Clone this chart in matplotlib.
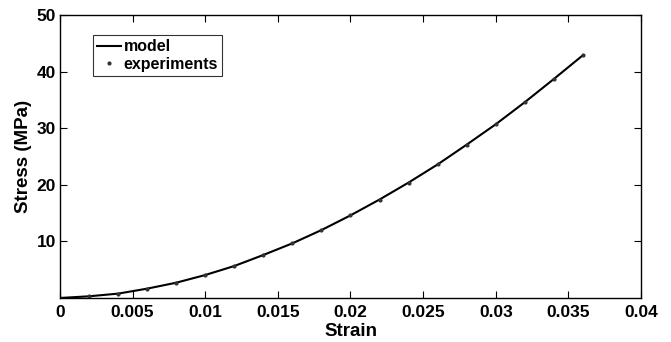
import matplotlib
matplotlib.use('Agg')
import matplotlib.pyplot as plt
import numpy as np

plt.rcParams['font.family'] = ['Liberation Sans', 'DejaVu Sans']
plt.rcParams['font.weight'] = 'bold'

# data
strain = [0.0, 0.002, 0.004, 0.006, 0.008, 0.010, 0.012, 0.014, 0.016, 0.018,
          0.020, 0.022, 0.024, 0.026, 0.028, 0.030, 0.032, 0.034, 0.036]
stress_exp = [0.0, 0.3, 0.77, 1.65, 2.7, 4.06, 5.65, 7.6, 9.66, 12.0,
              14.6, 17.4, 20.4, 23.6, 27.1, 30.7, 34.6, 38.7, 42.9]
stress_model = [0.0, 0.3, 0.77, 1.65, 2.7, 4.06, 5.65, 7.6, 9.66, 12.0,
                14.6, 17.4, 20.4, 23.6, 27.1, 30.7, 34.6, 38.7, 42.9]

xticks = [0, 0.005, 0.01, 0.015, 0.02, 0.025, 0.03, 0.035, 0.04]
xticklabels = ['0', '0.005', '0.01', '0.015', '0.02', '0.025', '0.03', '0.035', '0.04']
yticks = [10, 20, 30, 40, 50]

fig = plt.figure(figsize=(6.71, 3.42), dpi=100)
ax = fig.add_axes([0.0894, 0.1287, 0.8659, 0.8273])

ax.plot(strain, stress_model, '-', color='black', linewidth=1.5, label='model')
ax.plot(strain, stress_exp, '.', color='#333333', markersize=4, label='experiments')

ax.set_xlim(0, 0.04)
ax.set_ylim(0, 50)
ax.set_xticks(xticks)
ax.set_xticklabels(xticklabels)
ax.set_yticks(yticks)
ax.tick_params(direction='in', top=True, right=True, labelsize=12.5, length=5, width=0.8)
ax.tick_params(axis='x', pad=5)
ax.tick_params(axis='y', pad=3)
for lab in ax.get_xticklabels() + ax.get_yticklabels():
    lab.set_fontweight('bold')
for s in ax.spines.values():
    s.set_linewidth(1.0)

ax.set_xlabel('Strain', fontsize=13.5, fontweight='bold', labelpad=2)
ax.set_ylabel('Stress (MPa)', fontsize=13.5, fontweight='bold', labelpad=3)

leg = ax.legend(loc='upper left', bbox_to_anchor=(0.057, 0.928), fontsize=11.5,
                frameon=True, fancybox=False, edgecolor='black',
                handlelength=1.5, handletextpad=0.15, borderpad=0.25,
                labelspacing=0.15, borderaxespad=0)
leg.get_frame().set_linewidth(0.8)
for t in leg.get_texts():
    t.set_fontweight('bold')

fig.savefig('out.png', dpi=100)
